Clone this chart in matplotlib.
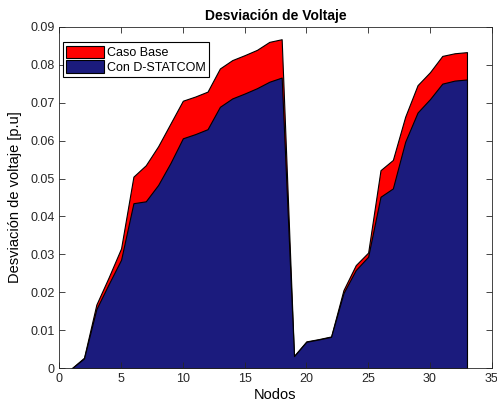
import numpy as np
import matplotlib
matplotlib.use('Agg')
import matplotlib.pyplot as plt

plt.rcParams['font.family'] = ['Liberation Sans', 'DejaVu Sans']

nodos = np.arange(1, 34)
caso_base = [0.0, 0.0028, 0.0168, 0.0240, 0.0316, 0.0505, 0.0535, 0.0585, 0.0645, 0.0705,
             0.0716, 0.0729, 0.0790, 0.0812, 0.0825, 0.0839, 0.0860, 0.0867, 0.0033, 0.0071,
             0.0077, 0.0084, 0.0206, 0.0272, 0.0305, 0.0522, 0.0549, 0.0663, 0.0746, 0.0780,
             0.0823, 0.0830, 0.0833]
d_statcom = [0.0, 0.0026, 0.0156, 0.0222, 0.0286, 0.0435, 0.0440, 0.0483, 0.0541, 0.0606,
             0.0617, 0.0630, 0.0689, 0.0711, 0.0724, 0.0738, 0.0755, 0.0766, 0.0032, 0.0070,
             0.0076, 0.0083, 0.0198, 0.0259, 0.0294, 0.0452, 0.0474, 0.0597, 0.0674, 0.0709,
             0.0750, 0.0758, 0.0761]

fig = plt.figure(figsize=(4.97, 4.12), dpi=100)
ax = fig.add_axes([0.1193, 0.106, 0.870, 0.8292])

ax.fill_between(nodos, 0, caso_base, facecolor='#ff0000', edgecolor='black', linewidth=0.8, label='Caso Base')
ax.fill_between(nodos, 0, d_statcom, facecolor='#1b1b7d', edgecolor='black', linewidth=0.8, label='Con D-STATCOM')

ax.set_xlim(0, 35)
ax.set_ylim(0, 0.09)
ax.set_xticks(np.arange(0, 36, 5))
ax.set_yticks(np.arange(0, 0.091, 0.01))
ax.set_yticklabels(['0'] + ['%.2f' % v for v in np.arange(0.01, 0.091, 0.01)])
ax.tick_params(direction='in', top=True, right=True, labelsize=9, length=4, width=0.6, colors='#262626', labelcolor='#262626')
for s in ax.spines.values():
    s.set_linewidth(0.6)
    s.set_color('#262626')

ax.set_title('Desviación de Voltaje', fontsize=10, fontweight='bold', pad=5)
ax.set_xlabel('Nodos', fontsize=10.5, labelpad=2)
ax.set_ylabel('Desviación de voltaje [p.u]', fontsize=10.5, labelpad=6)

leg = ax.legend(loc='upper left', bbox_to_anchor=(0.0, 0.965), fontsize=9, fancybox=False,
                framealpha=1, edgecolor='black', handlelength=3.0, handleheight=1.2,
                borderpad=0.25, labelspacing=0.1, handletextpad=0.3, borderaxespad=0.3)
leg.get_frame().set_linewidth(0.8)

fig.savefig('out.png', dpi=100)
